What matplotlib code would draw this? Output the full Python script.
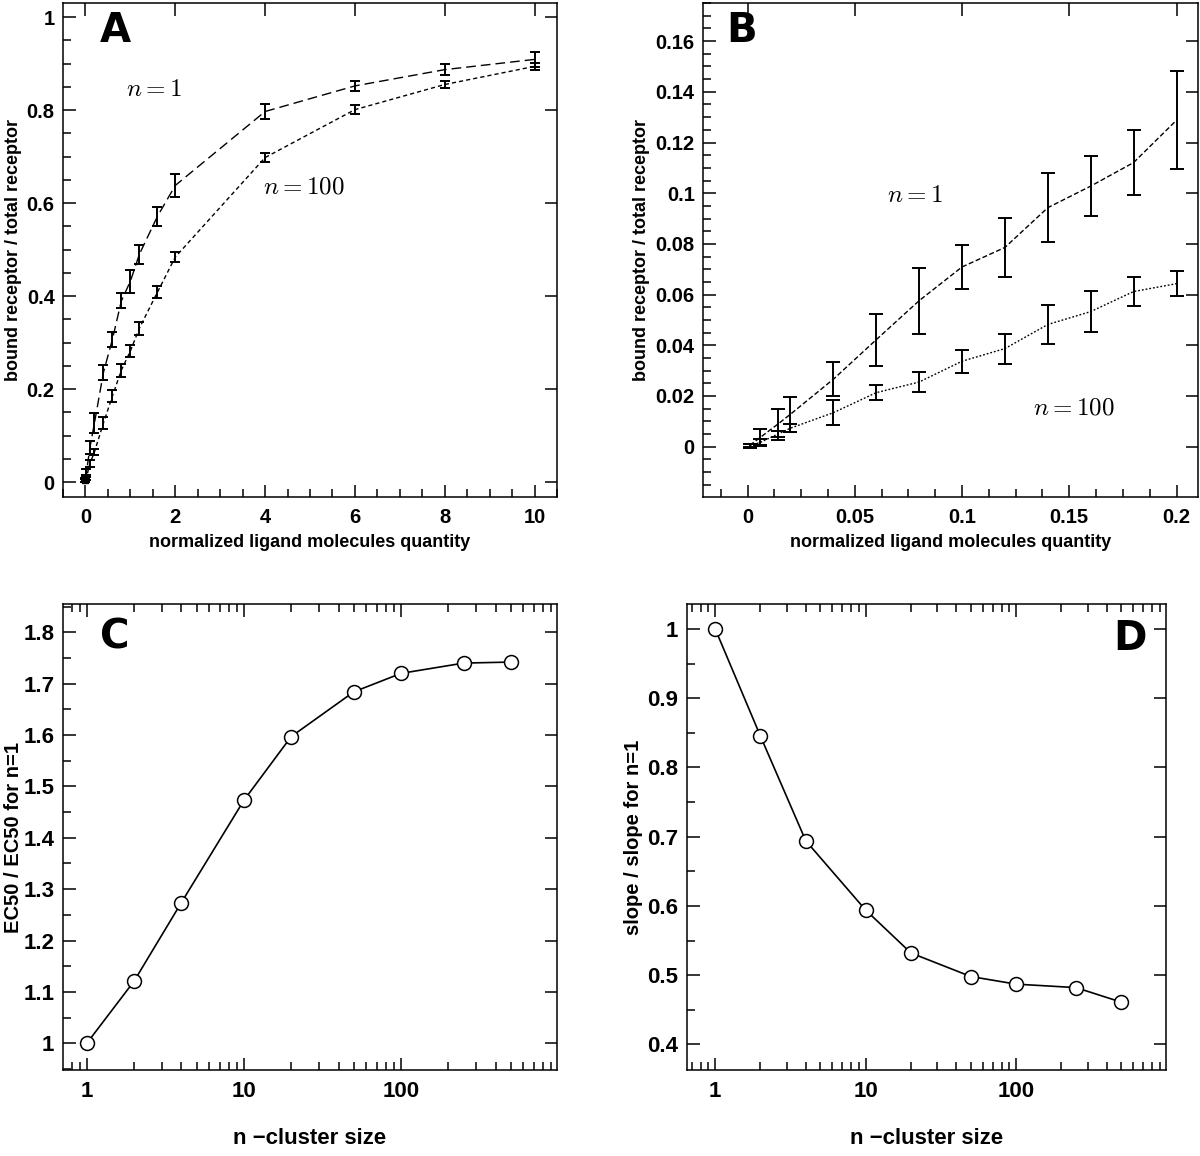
import matplotlib
matplotlib.use('Agg')
import matplotlib.pyplot as plt
from matplotlib.ticker import MultipleLocator, FuncFormatter, LogLocator, NullFormatter

plt.rcParams['font.family'] = ['Liberation Sans', 'DejaVu Sans']
plt.rcParams['font.weight'] = 'bold'
plt.rcParams['axes.labelweight'] = 'bold'
plt.rcParams['mathtext.fontset'] = 'cm'
plt.rcParams['lines.scale_dashes'] = False

# panel A: bound fraction vs ligand quantity
a_x1 = [0, 0.02, 0.1, 0.2, 0.4, 0.6, 0.8, 1.0, 1.2, 1.6, 2, 4, 6, 8, 10]
a_y1 = [0.005, 0.02, 0.075, 0.127, 0.236, 0.307, 0.39, 0.432, 0.49, 0.571, 0.638, 0.797, 0.852, 0.887, 0.909]
a_e1 = [0.004, 0.008, 0.014, 0.0215, 0.016, 0.016, 0.016, 0.025, 0.021, 0.021, 0.024, 0.017, 0.01, 0.012, 0.016]
a_x100 = [0, 0.02, 0.1, 0.2, 0.4, 0.6, 0.8, 1.0, 1.2, 1.6, 2, 4, 6, 8, 10]
a_y100 = [0.004, 0.01, 0.04, 0.065, 0.127, 0.185, 0.241, 0.282, 0.331, 0.408, 0.484, 0.698, 0.801, 0.855, 0.894]
a_e100 = [0.003, 0.005, 0.007, 0.007, 0.0125, 0.0125, 0.014, 0.013, 0.014, 0.013, 0.0104, 0.0104, 0.009, 0.008, 0.008]

# panel B: low ligand region
b_x = [0.001, 0.006, 0.014, 0.02, 0.04, 0.06, 0.08, 0.1, 0.12, 0.14, 0.16, 0.18, 0.2]
b_y1 = [0.0005, 0.0037, 0.0088, 0.0128, 0.0266, 0.0422, 0.0576, 0.0709, 0.0786, 0.0943, 0.1028, 0.1121, 0.1288]
b_e1 = [0.0005, 0.0034, 0.0061, 0.0069, 0.0068, 0.0103, 0.013, 0.0086, 0.0117, 0.0137, 0.0117, 0.0128, 0.0194]
b_y100 = [0.0003, 0.0017, 0.0049, 0.0073, 0.0134, 0.0213, 0.0255, 0.0337, 0.0387, 0.0482, 0.0533, 0.0612, 0.0643]
b_e100 = [0.0007, 0.0012, 0.0011, 0.0015, 0.0049, 0.003, 0.0038, 0.0046, 0.0059, 0.0077, 0.0081, 0.0058, 0.0049]

# panels C and D: cluster size dependence
n_size = [1, 2, 4, 10, 20, 50, 100, 250, 500]
ec50 = [1.0, 1.121, 1.274, 1.473, 1.597, 1.684, 1.720, 1.740, 1.742]
slope = [1.0, 0.845, 0.694, 0.594, 0.532, 0.498, 0.487, 0.482, 0.461]

fig = plt.figure(figsize=(12, 11.56), dpi=100)
axA = fig.add_axes([0.0525, 0.570, 0.4117, 0.4273])
axB = fig.add_axes([0.5858, 0.570, 0.4125, 0.4273])
axC = fig.add_axes([0.0523, 0.0744, 0.412, 0.4031])
axD = fig.add_axes([0.5723, 0.0744, 0.399, 0.4031])

fmt = FuncFormatter(lambda v, p: '%g' % round(v, 6))


def style(ax, size, minor_top=False):
    for s in ax.spines.values():
        s.set_linewidth(1.1)
    ax.tick_params(which='both', direction='in', top=True, right=True, labelsize=size, width=1.1)
    ax.tick_params(which='major', length=9)
    ax.tick_params(axis='x', which='major', pad=8)
    ax.tick_params(axis='y', which='major', pad=6)
    ax.tick_params(which='minor', length=6, right=False, top=minor_top)
    for t in ax.get_xticklabels() + ax.get_yticklabels():
        t.set_fontweight('bold')


# A
eb_kw = dict(color='black', lw=1.0, elinewidth=1.4, capthick=1.4)
l1 = axA.errorbar(a_x1, a_y1, yerr=a_e1, capsize=3.5, **eb_kw)
l1[0].set_dashes((7, 3.6))
l2 = axA.errorbar(a_x100, a_y100, yerr=a_e100, capsize=3.5, **eb_kw)
l2[0].set_dashes((3, 2.2))
axA.plot([0], [0.005], 's', color='black', ms=4)
axA.set_xlim(-0.5, 10.5)
axA.set_ylim(-0.032, 1.03)
axA.xaxis.set_major_locator(MultipleLocator(2))
axA.xaxis.set_minor_locator(MultipleLocator(0.5))
axA.yaxis.set_major_locator(MultipleLocator(0.2))
axA.yaxis.set_minor_locator(MultipleLocator(0.05))
axA.xaxis.set_major_formatter(fmt)
axA.yaxis.set_major_formatter(fmt)
axA.text(0.9, 0.83, r'$n = 1$', fontsize=18)
axA.text(3.95, 0.62, r'$n = 100$', fontsize=18)
axA.set_xlabel('normalized ligand molecules quantity', fontsize=13, labelpad=5)
axA.set_ylabel('bound receptor / total receptor', fontsize=13, labelpad=3)
style(axA, 14.5)

# B
l1 = axB.errorbar(b_x, b_y1, yerr=b_e1, capsize=5, **eb_kw)
l1[0].set_dashes((3.6, 1.8))
l2 = axB.errorbar(b_x, b_y100, yerr=b_e100, capsize=5, **eb_kw)
l2[0].set_dashes((1.3, 1.4))
axB.set_xlim(-0.0208, 0.21)
axB.set_ylim(-0.0199, 0.175)
axB.xaxis.set_major_locator(MultipleLocator(0.05))
axB.xaxis.set_minor_locator(MultipleLocator(0.0125))
axB.yaxis.set_major_locator(MultipleLocator(0.02))
axB.yaxis.set_minor_locator(MultipleLocator(0.005))
axB.xaxis.set_major_formatter(fmt)
axB.yaxis.set_major_formatter(fmt)
axB.text(0.065, 0.0965, r'$n = 1$', fontsize=18)
axB.text(0.133, 0.0128, r'$n = 100$', fontsize=18)
axB.set_xlabel('normalized ligand molecules quantity', fontsize=13, labelpad=5)
axB.set_ylabel('bound receptor / total receptor', fontsize=13, labelpad=4)
style(axB, 14.5)

# C
axC.plot(n_size, ec50, '-o', color='black', lw=1.2, ms=10, mfc='white', mec='black', mew=1.1)
axC.set_xscale('log')
axC.set_ylim(0.948, 1.855)
axC.yaxis.set_major_locator(MultipleLocator(0.1))
axC.yaxis.set_minor_locator(MultipleLocator(0.05))
axC.xaxis.set_major_locator(LogLocator(base=10, numticks=10))
axC.xaxis.set_minor_locator(LogLocator(base=10, subs=range(2, 10), numticks=10))
axC.xaxis.set_minor_formatter(NullFormatter())
axC.xaxis.set_major_formatter(fmt)
axC.yaxis.set_major_formatter(fmt)
axC.set_xlabel('n \u2212cluster size', fontsize=16, labelpad=19)
axC.set_ylabel('EC50 / EC50 for n=1', fontsize=14.5, labelpad=0)
style(axC, 16, minor_top=True)
axC.set_xlim(0.703, 985)

# D
axD.plot(n_size, slope, '-o', color='black', lw=1.2, ms=10, mfc='white', mec='black', mew=1.1)
axD.set_xscale('log')
axD.set_ylim(0.363, 1.036)
axD.yaxis.set_major_locator(MultipleLocator(0.1))
axD.yaxis.set_minor_locator(MultipleLocator(0.05))
axD.xaxis.set_major_locator(LogLocator(base=10, numticks=10))
axD.xaxis.set_minor_locator(LogLocator(base=10, subs=range(2, 10), numticks=10))
axD.xaxis.set_minor_formatter(NullFormatter())
axD.xaxis.set_major_formatter(fmt)
axD.yaxis.set_major_formatter(fmt)
axD.set_xlabel('n \u2212cluster size', fontsize=16, labelpad=19)
axD.set_ylabel('slope / slope for n=1', fontsize=14.5, labelpad=3)
style(axD, 16, minor_top=True)
axD.set_xlim(0.647, 985)

# panel letters
let_kw = dict(fontsize=29, fontweight='bold', family='DejaVu Sans', va='top')
axA.text(0.075, 0.985, 'A', transform=axA.transAxes, ha='left', **let_kw)
axB.text(0.048, 0.985, 'B', transform=axB.transAxes, ha='left', **let_kw)
axC.text(0.0755, 0.972, 'C', transform=axC.transAxes, ha='left', **let_kw)
axD.text(0.961, 0.968, 'D', transform=axD.transAxes, ha='right', **let_kw)

fig.savefig('out.png', dpi=100)
